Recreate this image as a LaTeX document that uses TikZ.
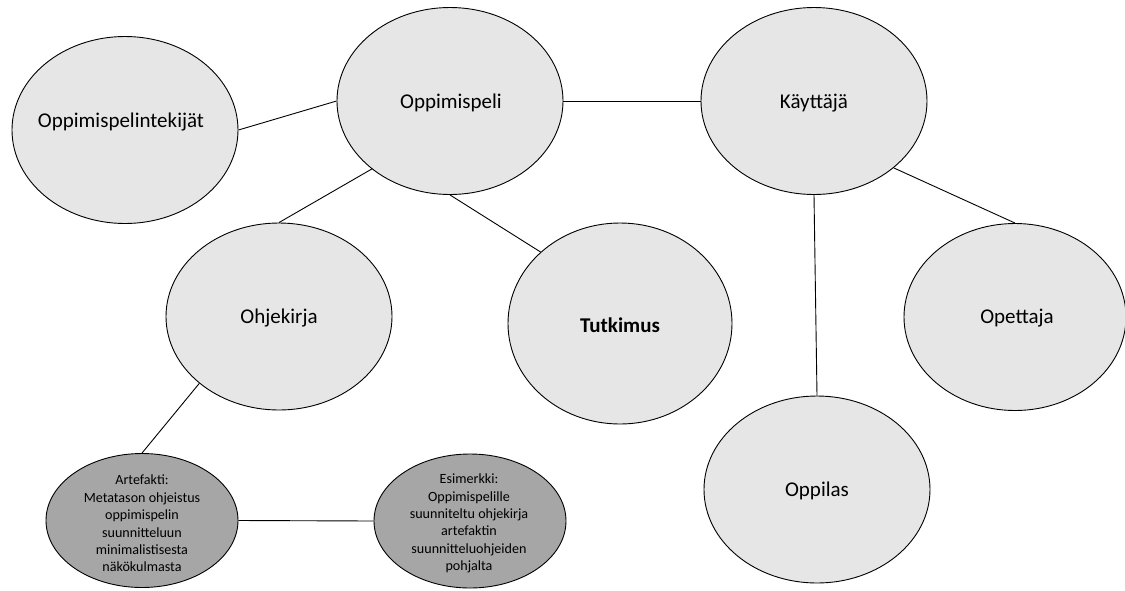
\documentclass[tikz,border=0pt]{standalone}
\usepackage{fontspec}
\setmainfont{Carlito}
\usepackage{tikz}
\usetikzlibrary{shapes.geometric}
\definecolor{bubblegray}{HTML}{E6E6E6}
\definecolor{deepgray}{HTML}{A6A6A6}
\tikzset{
  bubble/.style={ellipse, draw=black, line width=0.9pt, fill=bubblegray, inner sep=0pt,
    minimum width=226pt, minimum height=187pt},
  darkbubble/.style={bubble, fill=deepgray, minimum width=192pt, minimum height=134pt},
  txt/.style={font=\fontsize{21}{25}\selectfont, inner sep=0pt},
  smalltxt/.style={font=\fontsize{14.1}{17.4}\selectfont, align=center, inner sep=0pt},
  link/.style={draw=black, line width=0.9pt}
}

\begin{document}
\begin{tikzpicture}[x=1pt, y=-1pt]
  \useasboundingbox (0,0) rectangle (1125,590);
  \node[bubble] (tek) at (125,130) {};
  \node[bubble] (peli) at (450,101) {};
  \node[bubble] (kayt) at (814,101) {};
  \node[bubble] (ohje) at (279,316.5) {};
  \node[bubble, minimum width=224pt, minimum height=201pt] (tutk) at (620,323.5) {};
  \node[bubble, minimum width=222pt] (opet) at (1015,317) {};
  \node[bubble] (oppi) at (817,489.5) {};
  \node[darkbubble] (arte) at (142,520.5) {};
  \node[darkbubble] (esim) at (470,521) {};

  \draw[link] (tek.east) -- (peli.west);
  \draw[link] (peli.east) -- (kayt.west);
  \draw[link] (peli.221) -- (ohje.north);
  \draw[link] (peli.south) -- (tutk.138);
  \draw[link] (kayt.south) -- (oppi.north);
  \draw[link] (kayt.320) -- (opet.north);
  \draw[link] (ohje.220) -- (arte.north);
  \draw[link] (arte.east) -- (esim.west);

  \node[txt] (tekt) at (121,122) {Oppimispelintekijät};
  \node[txt] (pelit) at (451,103) {Oppimispeli};
  \node[txt] (kaytt) at (814,103) {Käyttäjä};
  \node[txt] (ohjet) at (279,318) {Ohjekirja};
  \node[txt, font=\fontsize{21}{25}\selectfont\bfseries] (tutkt) at (620,325) {Tutkimus};
  \node[txt] (opett) at (1017,318) {Opettaja};
  \node[txt] (oppit) at (817,491) {Oppilas};
  \node[smalltxt] (artet) at (142,523.5) {Artefakti:\\Metatason ohjeistus\\oppimispelin\\suunnitteluun\\minimalistisesta\\näkökulmasta};
  \node[smalltxt] (esimt) at (469,523.5) {Esimerkki:\\Oppimispelille\\suunniteltu ohjekirja\\artefaktin\\suunnitteluohjeiden\\pohjalta};
\end{tikzpicture}
\end{document}
